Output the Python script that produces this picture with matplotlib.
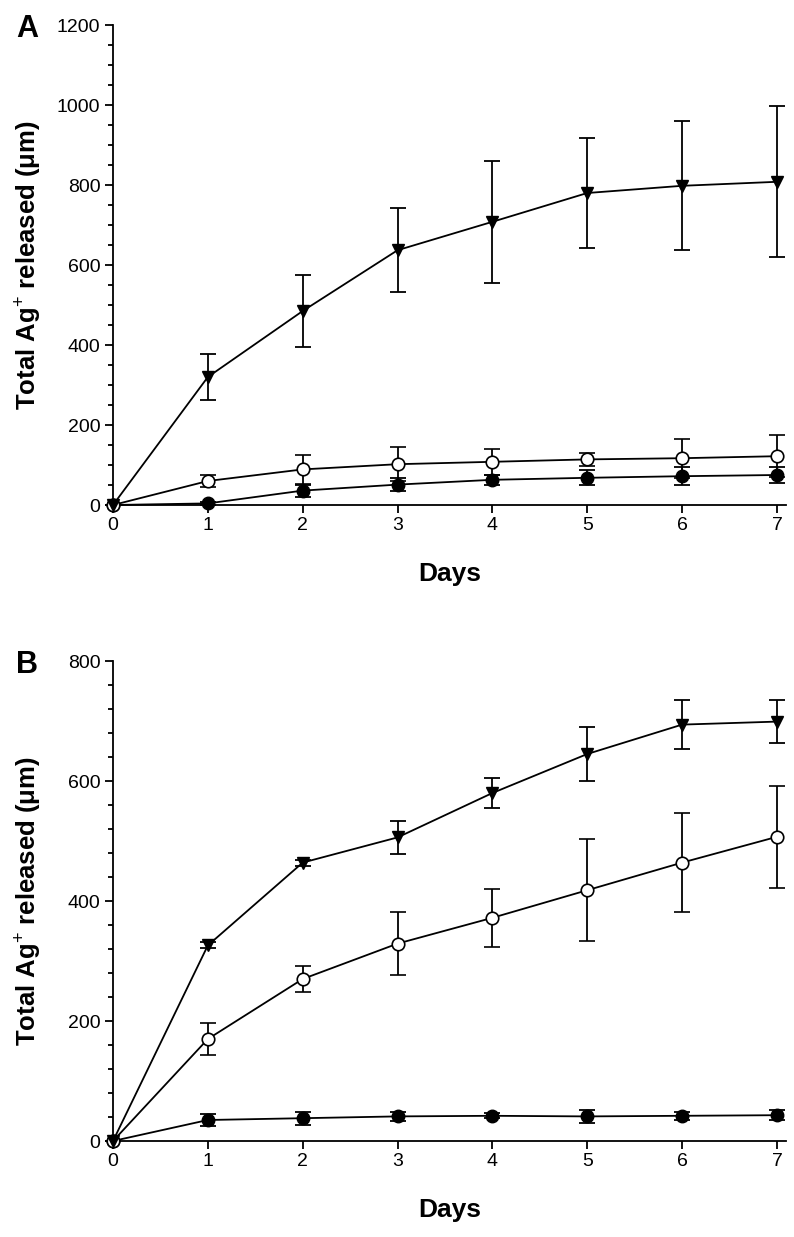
import matplotlib.pyplot as plt
import numpy as np
from matplotlib.ticker import MultipleLocator

plt.rcParams['font.family'] = ['Liberation Sans', 'DejaVu Sans']
plt.rcParams['mathtext.fontset'] = 'custom'
plt.rcParams['mathtext.rm'] = 'Liberation Sans'
plt.rcParams['mathtext.bf'] = 'Liberation Sans:bold'

days = [0, 1, 2, 3, 4, 5, 6, 7]

# panel A
a_tri = [0, 320, 485, 637, 708, 780, 798, 808]
a_tri_err = [0, 58, 90, 105, 153, 138, 161, 189]
a_open = [0, 60, 89, 102, 108, 114, 117, 122]
a_open_err = [0, 15, 37, 43, 32, 17, 49, 52]
a_fill = [0, 4, 36, 51, 63, 68, 72, 75]
a_fill_err = [0, 4, 15, 16, 13, 19, 23, 20]

# panel B
b_tri = [0, 326, 464, 506, 580, 645, 694, 699]
b_tri_err = [0, 5, 5, 28, 25, 45, 41, 36]
b_open = [0, 170, 270, 329, 372, 418, 464, 507]
b_open_err = [0, 27, 22, 52, 48, 85, 82, 85]
b_fill = [0, 35, 38, 41, 42, 41, 42, 43]
b_fill_err = [0, 10, 11, 7, 4, 11, 7, 8]

W, H = 794, 1237
fig = plt.figure(figsize=(W / 100, H / 100), dpi=100)


def panel(ax, tri, tri_err, opn, opn_err, fill, fill_err, ymax, minor, letter):
    kw = dict(color='black', lw=1.3, capsize=5.5, capthick=1.3, elinewidth=1.3,
              markersize=9, clip_on=False, zorder=3)
    ax.errorbar(days, fill, yerr=fill_err, fmt='-o', mfc='black', mec='black', **kw)
    ax.errorbar(days, opn, yerr=opn_err, fmt='-o', mfc='white', mec='black', mew=1.2, **kw)
    ax.errorbar(days, tri, yerr=tri_err, fmt='-v', mfc='black', mec='black', **kw)

    ax.set_xlim(0, 7.095)
    ax.set_ylim(0, ymax)
    ax.spines['top'].set_visible(False)
    ax.spines['right'].set_visible(False)
    for s in ['left', 'bottom']:
        ax.spines[s].set_linewidth(1.3)
    ax.set_xticks(days)
    ax.yaxis.set_major_locator(MultipleLocator(200))
    ax.yaxis.set_minor_locator(MultipleLocator(minor))
    ax.tick_params(which='major', direction='out', length=5.5, width=1.3, labelsize=14)
    ax.tick_params(which='minor', direction='out', length=3.6, width=1.3)

    ax.set_xlabel('Days', fontsize=19, fontweight='bold')
    ax.xaxis.set_label_coords(0.5, -0.118)
    ax.set_ylabel('Total Ag$^{+}$ released (\u03bcm)', fontsize=18.5, fontweight='bold')
    ax.yaxis.set_label_coords(-0.104, 0.5)
    ax.text(-0.111, 1 - 4 / 480, letter, transform=ax.transAxes, fontsize=22,
            fontweight='bold', ha='right', va='center')


left = 113 / W
width = (786 - 113) / W
axA = fig.add_axes([left, 1 - 505 / H, width, 480 / H])
axB = fig.add_axes([left, 1 - 1141 / H, width, 480 / H])

panel(axA, a_tri, a_tri_err, a_open, a_open_err, a_fill, a_fill_err, 1200, 50, 'A')
panel(axB, b_tri, b_tri_err, b_open, b_open_err, b_fill, b_fill_err, 800, 40, 'B')

fig.savefig('out.png', dpi=100)
